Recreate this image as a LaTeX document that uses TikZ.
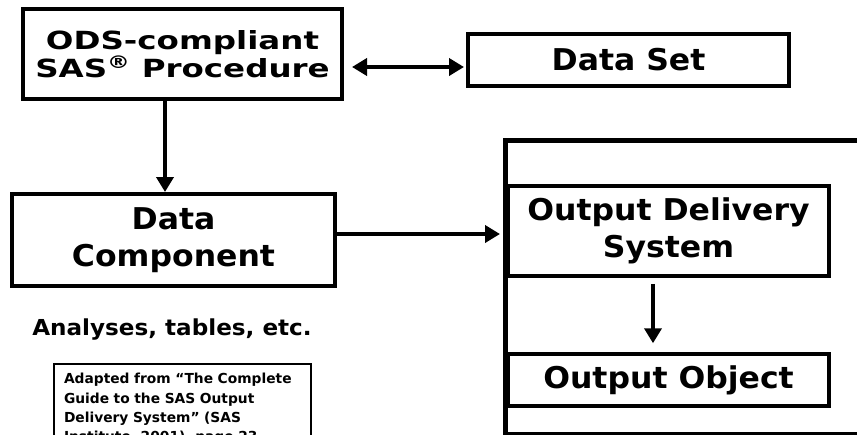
\documentclass[tikz,border=0pt]{standalone}
\usepackage{fontspec}
\setmainfont{DejaVu Sans}
\newfontfamily\boxfont{DejaVu Sans Bold}[FakeStretch=1.05]
\newfontfamily\procfont{DejaVu Sans Bold}[FakeStretch=1.3]
\newfontfamily\notefont{DejaVu Sans Bold}
\usetikzlibrary{arrows.meta}

\begin{document}
\begin{tikzpicture}[
    x=1pt, y=-1pt,
    box/.style={
        draw,
        line width=4pt,
        align=center,
        inner sep=0pt,
        font=\boxfont\fontsize{30}{37}\selectfont
    },
    inbox/.style={box, line width=3.5pt},
    arrow/.style={-{Triangle[length=15pt,width=17pt]}, line width=4pt},
    dblarrow/.style={{Triangle[length=15pt,width=17pt]}-{Triangle[length=15pt,width=17pt]}, line width=4pt}
]
    \useasboundingbox (0,0) rectangle (857,434);
    \clip (0,0) rectangle (857,434);

    \node (proc) [box, minimum width=319pt, minimum height=90pt,
        font=\procfont\fontsize{25}{25}\selectfont] at (182.5,54)
        {ODS-compliant\\SAS\textsuperscript{®} Procedure};
    \node (dset) [box, minimum width=321pt, minimum height=52pt] at (628.5,60) {Data Set};
    \node (dcomp) [box, minimum width=323pt, minimum height=92pt] at (173.5,240) {Data\\Component};
    \node (analyses) [anchor=base, font=\boxfont\fontsize{22}{27}\selectfont] at (172,335)
        {Analyses, tables, etc.};
    \node (source) [draw, line width=2pt, anchor=north west, text width=237pt,
        inner xsep=10pt, inner ysep=9.5pt, align=left,
        font=\notefont\fontsize{13.8}{19.3}\selectfont] at (53,363)
        {Adapted from “The Complete\\Guide to the SAS Output\\Delivery System” (SAS\\Institute, 2001), page 23};

    \node (frame) [draw, line width=4.5pt, anchor=north west,
        minimum width=420pt, minimum height=294pt] at (503,138) {};
    \node (odsys) [inbox, minimum width=321pt, minimum height=90pt] at (668.5,231) {Output Delivery\\System};
    \node (oobj) [inbox, minimum width=321pt, minimum height=52pt] at (668.5,380) {Output Object};

    \draw[dblarrow] ([xshift=8pt,yshift=-13pt]proc.east) -- ([xshift=-2pt,yshift=-7pt]dset.west);
    \draw[arrow] ([xshift=-17.5pt]proc.south) -- ([xshift=-17.5pt]proc.south |- dcomp.north);
    \draw[arrow] ([yshift=6pt]dcomp.east) -- ([xshift=-3pt,yshift=6pt]dcomp.east -| frame.west);
    \draw[arrow] ([xshift=-15.5pt,yshift=-6pt]odsys.south) -- ([xshift=-15.5pt,yshift=9pt]odsys.south |- oobj.north);

\end{tikzpicture}
\end{document}
